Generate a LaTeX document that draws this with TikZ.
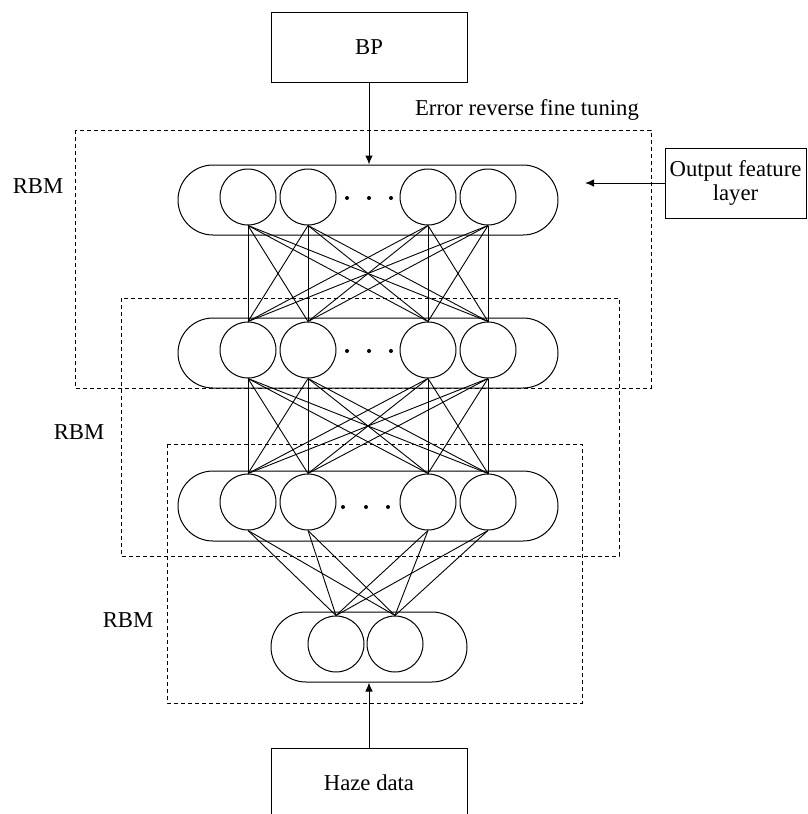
\documentclass[tikz,border=0pt]{standalone}
\usepackage{fontspec}
\setmainfont{Liberation Serif}
\usetikzlibrary{arrows.meta}
\begin{document}
\begin{tikzpicture}[x=1pt,y=-1pt,line width=1pt,
  neuron/.style={draw,circle,minimum size=56pt,inner sep=0pt},
  pill/.style={draw,rectangle,rounded corners=35pt,minimum height=70pt,inner sep=0pt},
  box/.style={draw,rectangle,inner sep=0pt,minimum height=70pt,font=\fontsize{22.7}{24}\selectfont,align=center},
  rbmbox/.style={draw,dash pattern=on 4pt off 3pt,line width=0.9pt},
  link/.style={line width=0.9pt},
  arr/.style={-{Latex[length=9pt,width=7.5pt]}},
  lbl/.style={font=\fontsize{22.7}{24}\selectfont,inner sep=0pt},
  dotn/.style={fill,circle,inner sep=0pt,minimum size=4pt}]
\useasboundingbox (0,0) rectangle (808,814);
\clip (0,0) rectangle (808,814);

% RBM groups
\draw[rbmbox] (75,130) rectangle (651,388);
\draw[rbmbox] (121,298) rectangle (619,556);
\draw[rbmbox] (167,444) rectangle (582,703);

% layers
\node[pill,minimum width=380pt] (L1) at (368,200) {};
\node[pill,minimum width=380pt] (L2) at (368,353) {};
\node[pill,minimum width=380pt] (L3) at (368,506) {};
\node[pill,minimum width=196pt] (L4) at (369,647) {};

\foreach \n/\x in {1/248,2/308,3/428,4/488} {
  \node[neuron] (a\n) at (\x,197) {};
  \node[neuron] (b\n) at (\x,350) {};
  \node[neuron] (c\n) at (\x,502) {};
}
\node[neuron] (d1) at (336,644) {};
\node[neuron] (d2) at (395,644) {};

\foreach \k/\x in {1/347,2/369,3/391} {
  \node[dotn] (p\k) at (\x,198) {};
  \node[dotn] (q\k) at (\x,351) {};
}
\foreach \k/\x in {1/343,2/366,3/388} {
  \node[dotn] (r\k) at (\x,507) {};
}

% connections
\foreach \i in {1,...,4} {
  \foreach \j in {1,...,4} {
    \draw[link] (a\i.south) -- (b\j.north);
    \draw[link] (b\i.south) -- (c\j.north);
  }
  \foreach \j in {1,2} {
    \draw[link] (c\i.south) -- (d\j.north);
  }
}

% boxes and arrows
\node[box,minimum width=196pt] (bp) at (369,47) {BP};
\draw[arr] (bp.south) -- (bp.south |- L1.north);
\node[lbl] (err) at (527,110) {Error reverse fine tuning};

\node[box,minimum width=196pt] (haze) at (369,783) {Haze data};
\draw[arr] (haze.north) -- (haze.north |- L4.south);

\node[box,minimum width=141pt] (ofl) at (735.5,183) {Output feature\\layer};
\coordinate (oflend) at (585,183);
\draw[arr] (ofl.west) -- (oflend);

\node[lbl] (rbm1) at (38,186) {RBM};
\node[lbl] (rbm2) at (79,432) {RBM};
\node[lbl] (rbm3) at (128,620) {RBM};
\end{tikzpicture}
\end{document}
